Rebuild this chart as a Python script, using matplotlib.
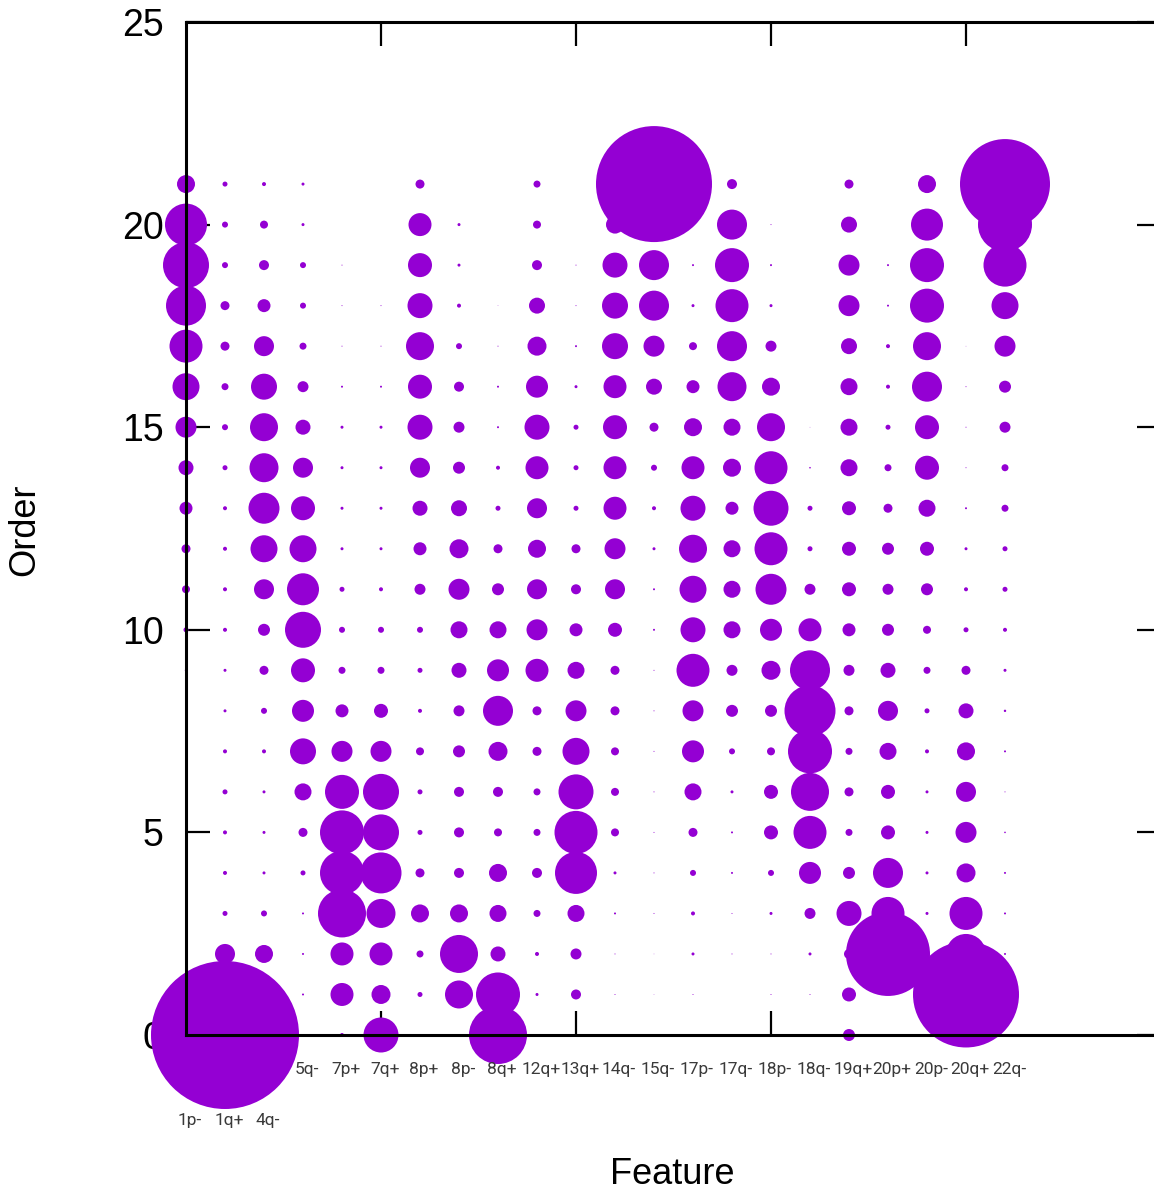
import numpy as np
import matplotlib
matplotlib.use("Agg")
import matplotlib.pyplot as plt

plt.rcParams["font.family"] = ["Liberation Sans", "DejaVu Sans"]

# feature names, one column each
features = ["1p-", "1q+", "4q-", "5q-", "7p+", "7q+", "8p+", "8p-", "8q+", "12q+", "13q+",
            "14q-", "15q-", "17p-", "17q-", "18p-", "18q-", "19q+", "20p+", "20p-", "20q+", "22q-"]
orders = list(range(22))

# bubble radius for order 0..21, one row per feature
bubbles = [
    [0, 0, 0, 0, 0, 0, 0, 0, 0.5, 1.2, 2.5, 4, 4.5, 6.5, 7.5, 10.5, 13.5, 16.5, 20, 23, 21, 9],
    [74, 0, 10, 2.5, 2, 2, 2.5, 2, 1.5, 1.5, 2, 2, 2, 2, 2.5, 3, 3.5, 4.5, 4.5, 3, 3, 2.5],
    [0, 0, 9, 3, 1.5, 1.5, 1.5, 2, 3, 4.5, 6, 10, 13.5, 15.5, 14.5, 14, 13, 10, 6.5, 5, 4, 2],
    [0, 1, 1, 1, 2.5, 4.5, 8.5, 13, 11, 12, 18, 16, 13.5, 12, 10, 7.5, 5.5, 3.5, 3, 3, 1.5, 1.5],
    [2, 11.5, 11.5, 24, 22, 22, 17, 10.5, 6.5, 3.5, 3, 2.5, 1.5, 1.5, 1.5, 1.5, 1, 0.5, 0.5, 0.5, 0, 0],
    [17.5, 9.5, 11.5, 14.5, 20.5, 18, 18, 10.5, 7, 3.5, 3, 2, 1.5, 1.5, 1.5, 1.5, 1, 0.5, 0.5, 0, 0, 0],
    [0.5, 2.5, 3.5, 9, 4.5, 2.5, 2.5, 4, 2, 2.5, 3, 5.5, 6.5, 7.5, 10, 12.5, 12, 14, 12.5, 12, 11.5, 4.5],
    [0.5, 14, 19, 9, 5, 5, 5, 6, 5.5, 7.5, 8.5, 10.5, 9.5, 8, 6, 5.5, 5, 3, 2, 1.5, 1.5, 0],
    [29, 22, 7.5, 8.5, 9, 4, 5, 9.5, 15, 11, 8.5, 6, 4.5, 2.5, 2, 1, 1, 0.5, 0.3, 0, 0, 0],
    [0, 1.5, 2, 3.5, 5, 3.5, 3.5, 4.5, 4.5, 11.5, 10.5, 10, 9, 10, 11.5, 12.5, 11, 9.5, 8, 5, 4, 3.5],
    [0, 5, 5.5, 8.5, 21, 21.5, 17.5, 13.5, 10.5, 8.5, 6.5, 5, 4.5, 2.5, 2.5, 2.5, 1.5, 1, 0.5, 0.5, 0, 0],
    [0, 0.5, 0.5, 1, 1.5, 4, 4, 4, 4.5, 4.5, 7, 10, 10.5, 11.5, 11.5, 12, 11.5, 13, 13, 12.5, 9, 5],
    [0, 0.3, 0.3, 0.5, 0.5, 0.5, 0.5, 0.5, 0.5, 0.5, 1, 1, 1.5, 2, 3, 4.5, 8, 10.5, 15, 15, 12, 58],
    [0, 0.5, 1.5, 2, 3, 4.5, 8.5, 11, 10.5, 16.5, 12.5, 13.5, 14, 12.5, 11.5, 9, 6.5, 4, 1.5, 1, 0, 0],
    [0, 0, 0.5, 0.5, 1, 1, 1.5, 3, 6, 5.5, 8.5, 8.5, 8.5, 6.5, 9, 8.5, 14.5, 15, 16.5, 17, 15, 5],
    [0, 0.5, 0.5, 1.5, 3, 7, 7, 4, 6, 9.5, 11, 15.5, 16.5, 17.5, 16.5, 14, 9, 5.5, 1.5, 1, 0.5, 0],
    [0, 0.5, 1.5, 5.5, 11, 16.5, 19, 22, 25.5, 20, 11.5, 5.5, 2.5, 2.5, 0.8, 0.3, 0, 0, 0, 0, 0, 0],
    [6, 7, 5, 12.5, 6, 3.5, 4.5, 3.5, 4.5, 5.5, 6.5, 7, 7, 7, 8.5, 8.5, 8.5, 8, 10.5, 10.5, 8, 4.5],
    [0, 0, 42, 16.5, 15, 7, 7, 8.5, 10, 7.5, 6, 5.5, 6, 4.5, 3.5, 2.5, 2, 2, 1, 1, 0, 0],
    [0, 0, 1, 1.5, 1.5, 1.5, 1.5, 2, 2.5, 3.5, 4, 6, 7, 8.5, 12, 12, 15, 14, 17, 17, 16, 9],
    [0, 53, 20, 16.5, 9.5, 10.5, 10, 9, 7.5, 4.5, 2.5, 2, 1.5, 1, 0.5, 0.5, 0.5, 0.3, 0, 0, 0, 0],
    [0, 0, 1, 1, 1, 0.8, 0.5, 1, 1.2, 1.5, 2, 2.5, 2.5, 3.5, 3.5, 5.5, 6, 10.5, 13.5, 21.5, 27, 45],
]

W, H = 1154, 1192
fig = plt.figure(figsize=(W / 100, H / 100), dpi=100)
ax = fig.add_axes([186 / W, 1 - 1035 / H, (1161 - 186) / W, (1035 - 22) / H])

xs, ys, rs = [], [], []
for i, row in enumerate(bubbles):
    for o, r in zip(orders, row):
        if r > 0:
            xs.append(i)
            ys.append(o)
            rs.append(r)
rs = np.array(rs)
# radius in pixels -> marker area in points^2
ax.scatter(xs, ys, s=(2 * rs * 0.72) ** 2, c="#9400d3", linewidths=0,
           clip_on=False, zorder=3)

ax.set_xlim(0, 25)
ax.set_ylim(0, 25)
ax.set_xticks([5, 10, 15, 20])
ax.set_xticklabels([])
ax.set_yticks([0, 5, 10, 15, 20, 25])
ax.tick_params(axis="both", direction="in", length=17, width=1.6,
               top=True, right=True, labelsize=27, pad=16)
for sp in ax.spines.values():
    sp.set_linewidth(2.2)
    sp.set_zorder(4)

for i, name in enumerate(features):
    ypos = -2.1 if i < 3 else -0.86
    ax.text(i + 0.1, ypos, name, ha="center", va="center", fontsize=12.5,
            color="#3a3a3a", family=["Roboto", "DejaVu Sans"], clip_on=False)

fig.text(25 / W, 1 - 530 / H, "Order", rotation=90, ha="center", va="center", fontsize=26)
fig.text(672 / W, 1 - 1175 / H, "Feature", ha="center", va="center", fontsize=26)

fig.savefig("out.png", dpi=100)
